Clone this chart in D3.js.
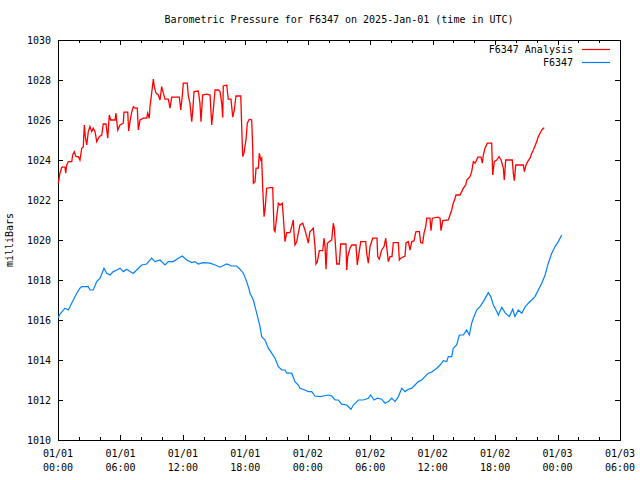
<!DOCTYPE html>
<html>
<head>
<meta charset="utf-8">
<script src="https://cdn.jsdelivr.net/npm/d3@7"></script>
<style>
  html, body { margin: 0; padding: 0; background: #fff; }
  svg { display: block; }
  text { font-family: "DejaVu Sans Mono", "Liberation Mono", monospace; font-size: 10px; fill: #000; }
</style>
</head>
<body>
<div id="chart"></div>
<script>
// ---- data (hours since 2025-01-01 00:00 UTC, pressure in mb) ----
const startTime = Date.UTC(2025, 0, 1, 0, 0);
const axisHours = 54;
const yTicks = [1010, 1012, 1014, 1016, 1018, 1020, 1022, 1024, 1026, 1028, 1030];
const seriesNames = ["F6347 Analysis", "F6347"];
const seriesColors = ["#ff0000", "#0080ff"];

const analysisHours = [0.03,0.19,0.36,0.67,0.74,0.84,0.99,1.32,1.41,1.57,1.73,1.95,2.11,2.28,2.43,2.53,2.62,2.76,2.91,3.07,3.24,3.39,3.56,3.72,3.97,4.20,4.35,4.61,4.78,4.93,5.06,5.48,5.57,5.74,5.96,6.27,6.34,6.70,6.79,6.92,7.08,7.24,7.40,7.62,7.72,7.88,8.20,8.52,8.62,8.77,8.84,9.00,9.16,9.25,9.42,9.64,9.80,9.96,10.12,10.28,10.60,10.76,10.93,11.66,11.79,11.94,12.04,12.42,12.52,12.68,12.85,12.94,13.07,13.48,13.64,13.74,13.90,14.29,14.61,14.77,14.92,15.09,15.40,15.57,15.73,15.83,15.88,16.21,16.36,16.62,16.79,16.94,17.10,17.56,17.65,17.75,17.87,18.06,18.19,18.38,18.61,18.71,18.77,18.93,19.03,19.25,19.34,19.48,19.57,19.67,19.80,19.89,20.05,20.37,20.63,20.76,20.85,21.02,21.17,21.33,21.55,21.65,21.81,21.98,22.29,22.46,22.61,22.68,22.77,22.94,23.09,23.25,23.51,23.73,23.90,24.05,24.21,24.38,24.53,24.69,24.79,24.92,25.11,25.44,25.56,25.66,25.75,25.88,26.07,26.30,26.45,26.55,26.68,26.78,27.03,27.16,27.67,27.74,27.84,28.06,28.22,28.63,28.76,28.92,29.09,29.57,29.66,29.82,29.98,30.24,30.65,30.72,30.87,31.10,31.33,31.49,31.58,31.74,31.90,32.09,32.22,32.70,32.80,32.93,33.34,33.44,33.66,33.82,33.99,34.21,34.30,34.40,34.72,34.85,35.04,35.17,35.33,35.43,35.74,35.84,35.97,36.54,36.71,36.80,36.97,37.50,37.67,37.83,37.98,38.15,38.24,38.63,38.79,38.95,39.18,39.27,39.59,39.75,39.91,40.07,40.23,40.33,40.64,40.77,40.87,41.03,41.25,41.67,41.77,41.92,42.15,42.38,42.57,42.79,42.88,43.02,43.65,43.75,43.85,43.98,44.71,44.81,44.97,45.13,45.35,45.52,45.67,45.83,46.00,46.15,46.32,46.48,46.63,46.73];
const analysisPressure = [1022.84,1023.34,1023.64,1023.64,1023.34,1023.75,1023.92,1023.92,1024.25,1024.42,1024.17,1024.17,1024.00,1024.59,1024.67,1025.75,1025.17,1024.75,1025.42,1025.67,1025.42,1025.59,1025.42,1024.92,1025.17,1025.25,1025.80,1025.80,1025.09,1026.25,1026.00,1026.00,1026.34,1025.50,1025.75,1025.84,1026.39,1026.39,1025.45,1025.92,1026.39,1026.67,1026.59,1026.59,1025.50,1026.00,1026.09,1026.09,1026.34,1026.09,1026.67,1027.34,1028.04,1027.67,1027.34,1027.25,1027.00,1027.67,1027.34,1027.04,1027.04,1026.59,1027.14,1027.14,1026.50,1027.17,1027.84,1027.84,1027.20,1026.84,1025.92,1026.42,1027.42,1027.45,1026.84,1025.92,1027.25,1027.29,1027.25,1025.75,1026.50,1027.50,1027.50,1027.42,1026.84,1026.12,1027.70,1027.75,1027.04,1027.04,1026.14,1026.50,1027.20,1027.20,1025.67,1024.17,1024.34,1025.00,1025.84,1026.04,1026.00,1024.59,1022.84,1022.92,1023.59,1023.59,1024.34,1024.00,1024.09,1022.59,1021.17,1021.50,1022.59,1022.62,1022.62,1020.50,1020.42,1021.17,1021.84,1021.75,1021.84,1021.17,1019.92,1020.37,1020.37,1020.67,1021.00,1020.34,1019.75,1019.92,1020.34,1020.75,1020.84,1020.50,1020.17,1019.84,1020.42,1020.50,1020.59,1019.70,1018.80,1018.92,1019.47,1019.47,1020.09,1019.67,1018.54,1019.84,1019.92,1020.00,1020.84,1020.59,1019.59,1018.80,1018.80,1019.80,1019.80,1018.50,1019.17,1019.59,1019.75,1019.75,1018.75,1019.34,1019.92,1019.92,1019.34,1018.84,1019.67,1020.09,1020.09,1019.17,1019.04,1019.50,1019.67,1020.09,1019.67,1018.92,1019.17,1019.17,1019.87,1019.87,1019.00,1019.09,1019.20,1019.85,1019.92,1019.50,1019.92,1019.95,1020.20,1020.42,1020.42,1019.87,1019.84,1020.34,1020.67,1021.09,1021.09,1020.47,1021.09,1021.14,1021.09,1020.47,1020.97,1021.00,1021.25,1021.50,1021.84,1022.09,1022.25,1022.25,1022.42,1022.59,1022.75,1023.00,1023.17,1023.42,1023.92,1023.84,1024.00,1024.14,1024.14,1023.84,1024.25,1024.59,1024.84,1024.84,1023.25,1023.92,1024.00,1024.17,1024.00,1023.59,1023.00,1024.00,1024.00,1023.34,1022.97,1023.75,1023.75,1023.42,1023.75,1023.92,1024.09,1024.34,1024.50,1024.70,1024.92,1025.17,1025.34,1025.50,1025.59,1025.59];

const stationHours = [0.03,0.12,0.67,0.99,1.47,1.80,2.11,2.28,2.91,3.07,3.39,3.72,4.04,4.42,4.68,5.00,5.31,5.64,5.96,6.27,6.60,6.92,7.24,7.56,8.04,8.52,9.00,9.32,9.80,10.28,10.60,11.08,11.56,11.94,12.37,12.85,13.16,13.48,13.96,14.61,15.09,15.57,16.21,16.69,17.17,17.49,17.81,18.13,18.38,18.45,18.77,19.09,19.41,19.57,19.89,20.21,20.53,20.85,21.17,21.50,21.81,21.98,22.46,22.77,23.09,23.25,23.73,24.05,24.38,24.69,25.18,25.49,25.97,26.30,26.62,26.93,27.26,27.74,28.15,28.38,28.86,29.34,29.82,30.05,30.36,30.68,31.10,31.42,31.74,32.07,32.38,32.70,33.03,33.35,33.66,33.99,34.30,34.62,34.95,35.26,35.58,35.91,36.39,36.71,37.02,37.35,37.50,37.83,37.98,38.31,38.56,38.95,39.27,39.52,39.75,39.91,40.23,40.55,40.87,41.13,41.35,41.58,41.83,42.09,42.31,42.64,42.95,43.37,43.69,43.91,44.23,44.56,44.87,45.19,45.52,45.83,46.15,46.48,46.80,47.11,47.44,47.76,48.07,48.40];
const stationPressure = [1016.09,1016.25,1016.59,1016.50,1017.00,1017.34,1017.59,1017.67,1017.67,1017.50,1017.50,1017.92,1018.09,1018.59,1018.34,1018.25,1018.42,1018.50,1018.59,1018.42,1018.54,1018.42,1018.34,1018.50,1018.75,1018.80,1019.09,1018.92,1019.00,1018.75,1018.92,1018.92,1019.09,1019.20,1019.00,1018.87,1018.92,1018.80,1018.87,1018.84,1018.75,1018.64,1018.80,1018.70,1018.70,1018.54,1018.34,1017.92,1017.50,1017.34,1017.00,1016.34,1015.67,1015.17,1015.00,1014.59,1014.34,1014.09,1013.67,1013.50,1013.50,1013.34,1013.34,1012.92,1012.75,1012.59,1012.50,1012.42,1012.42,1012.20,1012.17,1012.20,1012.25,1012.20,1012.00,1012.00,1011.79,1011.75,1011.54,1011.75,1012.00,1012.00,1012.09,1012.25,1012.00,1012.09,1012.04,1011.84,1011.92,1012.09,1011.92,1012.17,1012.59,1012.42,1012.54,1012.59,1012.75,1012.92,1013.00,1013.17,1013.34,1013.40,1013.59,1013.75,1013.97,1013.92,1014.17,1014.17,1014.59,1014.75,1015.25,1015.25,1015.50,1015.25,1015.84,1016.09,1016.50,1016.67,1016.92,1017.17,1017.37,1017.17,1016.75,1016.50,1016.25,1016.64,1016.37,1016.17,1016.54,1016.17,1016.50,1016.34,1016.64,1016.84,1017.00,1017.17,1017.50,1017.84,1018.25,1018.84,1019.34,1019.67,1019.92,1020.25];

// ---- layout ----
const W = 640, H = 480;
const L = 58, R = 620, T = 40, B = 440;
const hour = 3600 * 1000;
const toDate = h => new Date(startTime + h * hour);

const svg = d3.select("#chart").append("svg").attr("width", W).attr("height", H);

const x = d3.scaleUtc().domain([toDate(0), toDate(axisHours)]).range([L, R]);
const y = d3.scaleLinear().domain([1010, 1030]).range([B, T]);

// title
svg.append("text").attr("x", (L + R) / 2).attr("y", 23).attr("text-anchor", "middle")
  .text("Barometric Pressure for F6347 on 2025-Jan-01 (time in UTC)");

// y label
svg.append("text").attr("transform", `translate(13,${(T + B) / 2}) rotate(-90)`)
  .attr("text-anchor", "middle").text("milliBars");

const g = svg.append("g").attr("shape-rendering", "crispEdges");

// ticks via axes (inward)
const minorTicks = d3.range(0, axisHours + 1, 2).map(toDate);
const majorTicks = d3.range(0, axisHours + 1, 6).map(toDate);

const mkAxis = (axisFn, scale, vals, size) => axisFn(scale).tickValues(vals).tickSize(size).tickFormat("");

function styleAxis(sel) {
  sel.select(".domain").remove();
  sel.selectAll("line").attr("stroke", "#000");
}
// bottom
g.append("g").attr("transform", `translate(0,${B})`).call(mkAxis(d3.axisTop, x, minorTicks, 3)).call(styleAxis);
g.append("g").attr("transform", `translate(0,${B})`).call(mkAxis(d3.axisTop, x, majorTicks, 5)).call(styleAxis);
// top
g.append("g").attr("transform", `translate(0,${T})`).call(mkAxis(d3.axisBottom, x, minorTicks, 3)).call(styleAxis);
g.append("g").attr("transform", `translate(0,${T})`).call(mkAxis(d3.axisBottom, x, majorTicks, 5)).call(styleAxis);
// left / right
g.append("g").attr("transform", `translate(${L},0)`).call(mkAxis(d3.axisRight, y, yTicks, 5)).call(styleAxis);
g.append("g").attr("transform", `translate(${R},0)`).call(mkAxis(d3.axisLeft, y, yTicks, 5)).call(styleAxis);

// tick labels
const fmtDay = d3.utcFormat("%m/%d"), fmtTime = d3.utcFormat("%H:%M");
const xl = svg.append("g").selectAll("g").data(majorTicks).join("g")
  .attr("transform", d => `translate(${x(d)},0)`);
xl.append("text").attr("y", 457).attr("text-anchor", "middle").text(d => fmtDay(d));
xl.append("text").attr("y", 471).attr("text-anchor", "middle").text(d => fmtTime(d));

svg.append("g").selectAll("text").data(yTicks).join("text")
  .attr("x", 51).attr("y", d => y(d)).attr("dy", "0.35em").attr("text-anchor", "end")
  .text(d => d);

// border
g.append("rect").attr("x", L).attr("y", T).attr("width", R - L).attr("height", B - T)
  .attr("fill", "none").attr("stroke", "#000");

// series
const line = d3.line().x(d => x(toDate(d[0]))).y(d => y(d[1]));
const analysis = analysisHours.map((h, i) => [h, analysisPressure[i]]);
const station = stationHours.map((h, i) => [h, stationPressure[i]]);

svg.append("path").datum(analysis).attr("d", line).attr("fill", "none")
  .attr("stroke", seriesColors[0]).attr("stroke-width", 1.3);
svg.append("path").datum(station).attr("d", line).attr("fill", "none")
  .attr("stroke", seriesColors[1]).attr("stroke-width", 1.2);

// legend
const leg = svg.append("g");
seriesNames.forEach((name, i) => {
  const yy = 49.5 + i * 13;
  leg.append("text").attr("x", 573).attr("y", yy).attr("dy", "0.35em").attr("text-anchor", "end").text(name);
  leg.append("line").attr("x1", 582).attr("x2", 610).attr("y1", yy).attr("y2", yy)
    .attr("stroke", seriesColors[i]).attr("stroke-width", 1.2);
});
</script>
</body>
</html>
